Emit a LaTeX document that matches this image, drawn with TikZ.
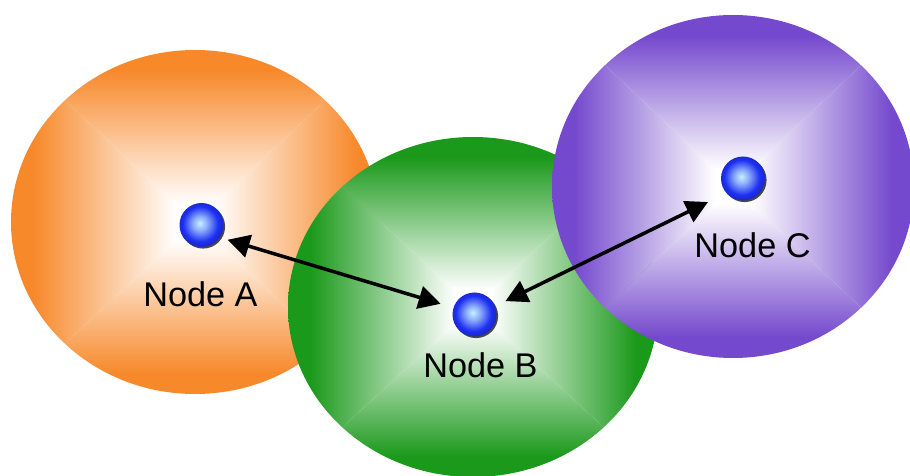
\documentclass[tikz,border=0pt]{standalone}
\usepackage{fontspec}
\setmainfont{Liberation Sans}
\usepackage{tikz}
\usetikzlibrary{arrows.meta,shadows}

\definecolor{blobOrange}{HTML}{F7892B}
\definecolor{blobGreen}{HTML}{1B991B}
\definecolor{blobPurple}{HTML}{7449CD}
\definecolor{dotBlue}{HTML}{1E30F2}
\definecolor{dotLight}{HTML}{C8F0FF}
\colorlet{fadecol}{white}

% rim colour on the left, white towards the middle
\pgfdeclarehorizontalshading[fadecol]{edgefade}{100bp}{color(0bp)=(fadecol); color(31bp)=(fadecol); color(70bp)=(white); color(100bp)=(white)}
\pgfdeclareradialshading{dotball}{\pgfpoint{-2bp}{2bp}}{color(0bp)=(dotLight); color(8bp)=(dotLight!65!dotBlue); color(20bp)=(dotBlue); color(25bp)=(dotBlue!85!black); color(50bp)=(dotBlue!85!black)}

\tikzset{
	peerdot/.style={circle,minimum size=0.88cm,inner sep=0pt,shading=dotball,shade,
		drop shadow={shadow xshift=0.9pt,shadow yshift=-0.9pt,fill=black!80,opacity=0.9}},
	link/.style={line width=2pt,{Triangle[length=12.5pt,width=13pt]}-{Triangle[length=12.5pt,width=13pt]}},
	peerlabel/.style={font=\fontsize{19.5}{23}\selectfont,inner sep=0pt,anchor=base},
}

\begin{document}
\begin{tikzpicture}
			
			\useasboundingbox (0,0) rectangle (18.2,9.52);
			\fill[white] (0,0) rectangle (18.2,9.52);
			
			% three areas, each shaded from its rim to a white middle
			\foreach \cx/\cy/\rx/\ry/\col in {3.90/5.08/3.68/3.44/blobOrange, 9.46/3.38/3.70/3.40/blobGreen, 14.66/5.79/3.62/3.43/blobPurple}{
				\colorlet{fadecol}{\col}
				\begin{scope}
					\clip (\cx,\cy) ellipse ({\rx} and {\ry});
					\shade[shading=edgefade] (\cx,\cy) -- ++(-\rx,\ry) -- ++(0,-2*\ry) -- cycle;
					\shade[shading=edgefade,shading angle=180] (\cx,\cy) -- ++(\rx,\ry) -- ++(0,-2*\ry) -- cycle;
					\shade[shading=edgefade,shading angle=-90] (\cx,\cy) -- ++(-\rx,\ry) -- ++(2*\rx,0) -- cycle;
					\shade[shading=edgefade,shading angle=90] (\cx,\cy) -- ++(-\rx,-\ry) -- ++(2*\rx,0) -- cycle;
				\end{scope}
			}
			
			\node[peerdot] (dotA) at (4.03,5.02) {};
			\node[peerdot] (dotB) at (9.49,3.23) {};
			\node[peerdot] (dotC) at (14.86,5.95) {};
			
			\node[peerlabel] (labA) at (4.01,3.38) {Node A};
			\node[peerlabel] (labB) at (9.61,1.96) {Node B};
			\node[peerlabel] (labC) at (15.05,4.36) {Node C};
			
			\draw[link,shorten <=4.5pt,shorten >=7.5pt] (dotA.-34) -- (dotB.162);
			\draw[link,shorten <=6.5pt,shorten >=11.5pt] (dotB.22) -- (dotC.221);
			
		\end{tikzpicture}
\end{document}
